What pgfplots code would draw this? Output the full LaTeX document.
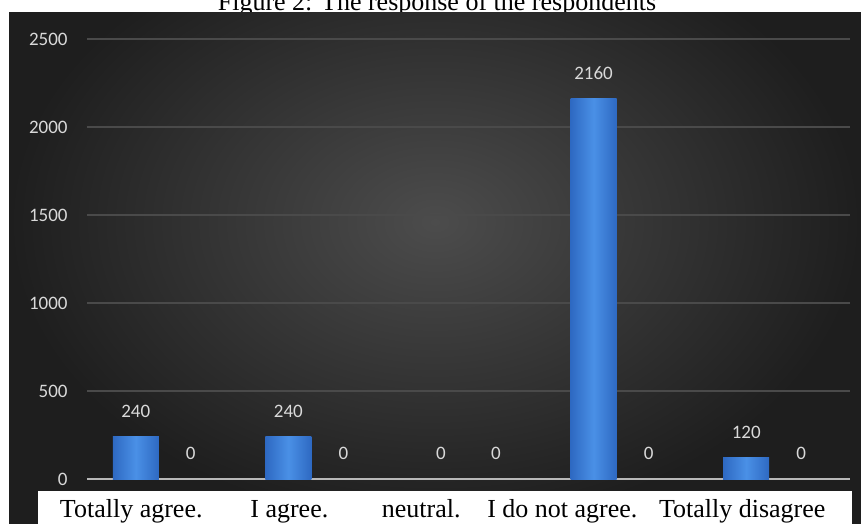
\documentclass[border=0pt]{standalone}
\usepackage{fontspec}
\setmainfont{Liberation Serif}
\newfontfamily\calfont{Carlito}
\usepackage{pgfplots}
\pgfplotsset{compat=1.18}
\definecolor{barmid}{HTML}{4A90E6}
\definecolor{baredge}{HTML}{2E69C2}
\definecolor{lbl}{HTML}{D9D9D9}
\definecolor{gridc}{HTML}{4A4A4A}
\definecolor{bgin}{HTML}{4C4C4C}
\definecolor{bgout}{HTML}{1E1E1E}
\begin{document}
\begin{tikzpicture}
\clip (0,0) rectangle (430.5pt,-262pt);
\fill[white] (0,0) rectangle (430.5pt,-262pt);
\node[anchor=base, inner sep=0pt, font=\fontsize{13pt}{15pt}\selectfont] at (218.5pt,-5.5pt) {Figure 2: The response of the respondents};
\begin{scope}
\clip (4.5pt,-6.5pt) rectangle (430.5pt,-262pt);
\shade[inner color=bgin, outer color=bgout] (4.5pt,40pt) rectangle (430.5pt,-262pt);
\end{scope}
\fill[white] (19pt,-245.5pt) rectangle (426pt,-262pt);
\begin{axis}[
  at={(43.5pt,-239.5pt)}, anchor=south west,
  scale only axis, width=381.5pt, height=220pt,
  xmin=-0.5, xmax=4.5, ymin=0, ymax=2500,
  ytick={0,500,1000,1500,2000,2500},
  xtick={-0.21,0.826,1.69,2.615,3.794},
  xticklabels={Totally agree., I agree., neutral., I do not agree., Totally disagree},
  xticklabel style={anchor=base, yshift=-19pt, inner sep=0pt, font=\fontsize{13pt}{15pt}\selectfont, text=black},
  yticklabel style={anchor=east, inner sep=0pt, xshift=-9.5pt, font=\fontsize{9.5pt}{11pt}\calfont, text=lbl},
  /pgf/number format/assume math mode=true,
  /pgf/number format/1000 sep={},
  major tick length=0pt,
  axis line style={draw=none},
  ymajorgrids, grid style={draw=gridc, line width=0.6pt},
  ybar, bar width=23pt,
  nodes near coords,
  every node near coord/.append style={font=\fontsize{9.5pt}{11pt}\calfont, text=lbl, inner sep=0pt, anchor=south, yshift=9.5pt},
  clip=false,
]
\draw[lbl!85!black, line width=0.8pt] (rel axis cs:0,0) -- (rel axis cs:1,0);
% series 1: one bar per category (shaded individually)
\pgfplotsset{s1/.style={bar shift=-13.75pt, draw=none, left color=baredge, right color=baredge, middle color=barmid}}
\addplot[s1] coordinates {(0,240)};
\addplot[s1] coordinates {(1,240)};
\addplot[bar shift=-13.75pt, draw=none, fill=none] coordinates {(2,0)};
\addplot[s1] coordinates {(3,2160)};
\addplot[s1] coordinates {(4,120)};
% series 2 (all zero)
\addplot[bar shift=13.75pt, draw=none, fill=none]
  coordinates {(0,0) (1,0) (2,0) (3,0) (4,0)};
\end{axis}
\end{tikzpicture}
\end{document}
